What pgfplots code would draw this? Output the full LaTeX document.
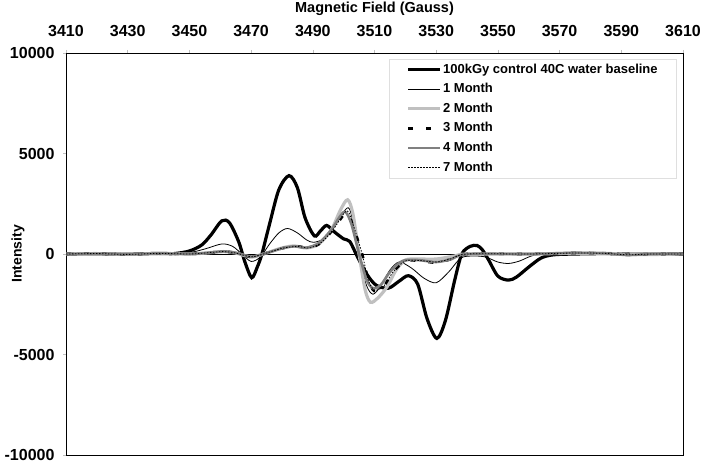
\documentclass[border=0pt]{standalone}
\usepackage{fontspec}
\setmainfont{Liberation Sans}
\usepackage{pgfplots}
\pgfplotsset{compat=1.18}

\definecolor{lgray}{RGB}{192,192,192}
\definecolor{mgray}{RGB}{128,128,128}

\begin{document}
\begin{tikzpicture}
\useasboundingbox (0,0) rectangle (704pt,466pt);
\begin{axis}[
    at={(66pt,11pt)}, anchor=south west,
    width=617pt, height=402pt, scale only axis,
    xmin=3410, xmax=3610, ymin=-10000, ymax=10000,
    xtick={3410,3430,...,3610},
    ytick={-10000,-5000,0,5000,10000},
    xtick pos=upper, ytick pos=left,
    xticklabel pos=upper,
    tick align=outside, major tick length=3pt,
    tick style={gray!50, line width=0.5pt},
    axis line style={black, line width=0.8pt},
    scaled ticks=false,
    /pgf/number format/.cd, 1000 sep={}, assume math mode=true, /pgfplots/.cd,
    ticklabel style={font=\bfseries\fontsize{16}{18}\selectfont},
    xticklabel style={yshift=10pt},
    yticklabel style={xshift=-5pt},
    xlabel={Magnetic Field (Gauss)},
    xlabel style={at={(axis description cs:0.5,1.1107)}, anchor=center, font=\bfseries\fontsize{14.5}{16}\selectfont},
    ylabel={Intensity},
    ylabel style={at={(axis description cs:-0.0778,0.5)}, anchor=center, font=\bfseries\fontsize{14}{16}\selectfont},
    legend image code/.code={\draw[#1] (0pt,0pt) -- (32pt,0pt);},
    legend cell align=left,
    legend style={at={(0.523,0.986)}, anchor=north west, draw=gray!25,
        inner xsep=18pt, inner ysep=1pt,
        font=\bfseries\fontsize{13}{15}\selectfont,
        nodes={inner xsep=1pt, inner ysep=3.3pt, text height=10pt, text depth=3pt}},
]
% zero line
\addplot[black, line width=0.5pt, forget plot] coordinates {(3410,0) (3610,0)};

% 100kGy control 40C water baseline
\addplot[black, line width=3.2pt, smooth, tension=0.5] coordinates {
(3410,0) (3420,10) (3430,-10) (3440,30) (3445,20) (3450,150) (3454,450)
(3457,950) (3460.5,1650) (3463,1550) (3466,600) (3468,-400) (3470.2,-1180)
(3472,-650) (3473.5,0) (3476,1500) (3479,3200) (3482.3,3900) (3485,3300)
(3487.5,1800) (3490.5,900) (3492.5,1150) (3494.5,1420) (3497,1100)
(3500,750) (3502,620) (3504.5,-150) (3507.5,-1000) (3510.5,-1550)
(3514.5,-1700) (3518,-1350) (3521,-1080) (3524,-1500) (3527,-3200)
(3530.2,-4200) (3533,-3300) (3536,-1300) (3538.3,0) (3541,380)
(3543.3,420) (3545,200) (3547,-300) (3550,-1100) (3553.4,-1300)
(3556,-1150) (3560,-650) (3564,-200) (3568,-40) (3575,0) (3585,20)
(3595,-10) (3610,0)};
\addlegendentry{100kGy control 40C water baseline}

% 1 Month
\addplot[black, line width=0.8pt, smooth, tension=0.5] coordinates {
(3410,0) (3430,0) (3440,10) (3450,80) (3455,250) (3460.5,500) (3464,380)
(3467,0) (3470,-370) (3473,-150) (3476,500) (3479,1050) (3481.8,1270)
(3485,1050) (3488,700) (3490.3,580) (3494,800) (3497.5,1500) (3501.5,2300)
(3503.5,1200) (3505.5,-500) (3507.5,-1600) (3509.5,-2000) (3512,-1600)
(3515,-800) (3518,-400) (3522,-700) (3526,-1200) (3530,-1430) (3534,-900)
(3538,-200) (3542,-100) (3546,-150) (3550,-400) (3553.5,-470) (3557,-350)
(3562,-50) (3570,0) (3610,0)};
\addlegendentry{1 Month}

% 2 Month
\addplot[lgray, line width=3.2pt, smooth, tension=0.5] coordinates {
(3410,0) (3420,20) (3430,-20) (3440,30) (3450,0) (3456,60) (3461,120)
(3465,50) (3470,-150) (3474,0) (3480,300) (3484,400) (3488,300) (3492,500)
(3496,1200) (3499,2200) (3501.3,2700) (3503,2000) (3505,0) (3507,-1800)
(3508.7,-2400) (3511,-2200) (3514,-1650) (3517,-800) (3520,-300)
(3524,-250) (3530,-250) (3536,-100) (3540,0) (3560,0) (3575,40)
(3585,30) (3595,-30) (3610,0)};
\addlegendentry{2 Month}

% 3 Month
\addplot[black, line width=2.6pt, dash pattern=on 5pt off 13pt, smooth, tension=0.5] coordinates {
(3410,0) (3420,20) (3430,-20) (3440,30) (3450,0) (3456,60) (3461,120)
(3465,50) (3470,-150) (3474,0) (3480,280) (3485,380) (3489,300) (3493,600)
(3497,1300) (3500.8,2050) (3502.8,1500) (3506,0) (3508,-1300) (3510,-1850)
(3513,-1600) (3516,-900) (3520,-350) (3525,-350) (3530,-430) (3535,-250)
(3540,0) (3560,0) (3575,50) (3585,30) (3592,-40) (3600,0) (3610,0)};
\addlegendentry{3 Month}

% 4 Month
\addplot[mgray, line width=2.6pt, smooth, tension=0.5] coordinates {
(3410,0) (3420,20) (3430,-20) (3440,30) (3450,0) (3456,60) (3461,130)
(3465,60) (3470,-130) (3474,0) (3480,280) (3484,380) (3488,320) (3492,550)
(3496,1200) (3498.5,1800) (3500.5,2100) (3502.5,1500) (3505,0)
(3507.5,-1300) (3509.5,-1700) (3512,-1550) (3515,-900) (3519,-350)
(3524,-300) (3530,-400) (3535,-250) (3540,0) (3560,0) (3575,60)
(3585,30) (3592,-50) (3600,0) (3610,0)};
\addlegendentry{4 Month}

% 7 Month
\addplot[black, line width=0.8pt, dash pattern=on 1.5pt off 1.5pt, smooth, tension=0.5] coordinates {
(3410,0) (3420,20) (3430,-20) (3440,30) (3450,0) (3456,60) (3461,120)
(3465,50) (3470,-140) (3474,0) (3480,280) (3485,380) (3489,300) (3493,600)
(3497,1300) (3501,2150) (3503,1500) (3506,0) (3508,-1300) (3510,-1800)
(3513,-1600) (3516,-900) (3520,-350) (3525,-330) (3530,-400) (3535,-230)
(3540,0) (3560,0) (3575,50) (3585,30) (3592,-40) (3600,0) (3610,0)};
\addlegendentry{7 Month}
\end{axis}
\end{tikzpicture}
\end{document}
